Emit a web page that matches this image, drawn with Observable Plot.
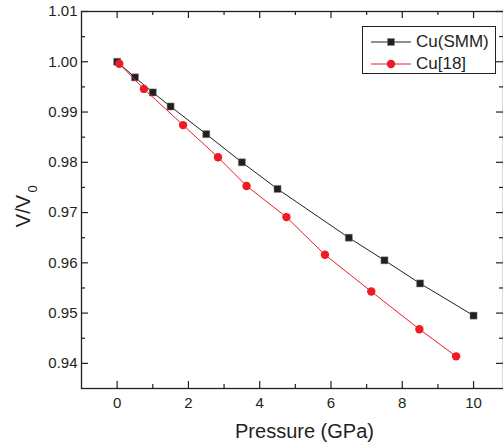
<!DOCTYPE html>
<html>
<head>
<meta charset="utf-8">
<script src="https://cdn.jsdelivr.net/npm/d3@7"></script>
<script src="https://cdn.jsdelivr.net/npm/@observablehq/plot@0.6"></script>
<style>
  html, body { margin: 0; padding: 0; background: #fff; }
  #wrap { position: relative; width: 503px; height: 444px; font-family: "Liberation Sans", Arial, sans-serif; }
  #legend { position: absolute; left: 362px; top: 26px; width: 134px; height: 48px; border: 1px solid #231f20; background: #fff; box-sizing: border-box; }
  .row { position: absolute; left: 0; height: 20px; display: flex; align-items: center; }
  .row span { font-size: 17px; color: #231f20; margin-left: 3px; line-height: 20px; }
</style>
</head>
<body>
<div id="wrap"></div>
<script>
// Series: Cu(SMM)
const pSMM = [0, 0.5, 1.0, 1.5, 2.5, 3.5, 4.5, 6.5, 7.5, 8.5, 10.0];
const vSMM = [1.000, 0.9969, 0.9939, 0.9911, 0.9856, 0.9800, 0.9747, 0.9650, 0.9605, 0.9559, 0.9495];
// Series: Cu[18]
const pRef = [0.06, 0.75, 1.85, 2.83, 3.63, 4.75, 5.83, 7.13, 8.48, 9.51];
const vRef = [0.9996, 0.9946, 0.9874, 0.9810, 0.9753, 0.9691, 0.9616, 0.9543, 0.9468, 0.9414];
// Ticks
const xMajor = [0, 2, 4, 6, 8, 10];
const xMinor = [1, 3, 5, 7, 9];
const yMajor = [0.94, 0.95, 0.96, 0.97, 0.98, 0.99, 1.00, 1.01];
const yMinor = [0.945, 0.955, 0.965, 0.975, 0.985, 0.995, 1.005];
const seriesNames = ["Cu(SMM)", "Cu[18]"];
const colors = ["#231f20", "#ed1c24"];

const smm = pSMM.map((p, i) => ({p, v: vSMM[i]}));
const ref = pRef.map((p, i) => ({p, v: vRef[i]}));

const W = 503, H = 444, mL = 81, mR = 0, mT = 11, mB = 56;
const iw = W - mL - mR, ih = H - mT - mB;
const major = 7, minor = 4;
const ink = "#231f20";

const chart = Plot.plot({
  width: W, height: H,
  marginLeft: mL, marginRight: mR, marginTop: mT, marginBottom: mB,
  style: {fontFamily: "'Liberation Sans', Arial, sans-serif", background: "#fff", color: ink},
  x: {domain: [-1, 10.84]},
  y: {domain: [0.935, 1.01]},
  marks: [
    Plot.axisX({ticks: xMajor, tickSize: 0, tickPadding: 9, fontSize: 15, label: null, tickFormat: d3.format("d")}),
    Plot.axisY({ticks: yMajor, tickSize: 0, tickPadding: 4, fontSize: 15, label: null, tickFormat: d3.format(".2f")}),
    // inward ticks
    Plot.tickX(xMajor, {x: d => d, insetTop: ih - major, stroke: ink, strokeWidth: 1.2}),
    Plot.tickX(xMinor, {x: d => d, insetTop: ih - minor, stroke: ink, strokeWidth: 1.2}),
    Plot.tickX(xMajor, {x: d => d, insetBottom: ih - major, stroke: ink, strokeWidth: 1.2}),
    Plot.tickX(xMinor, {x: d => d, insetBottom: ih - minor, stroke: ink, strokeWidth: 1.2}),
    Plot.tickY(yMajor, {y: d => d, insetRight: iw - major, stroke: ink, strokeWidth: 1.2}),
    Plot.tickY(yMinor, {y: d => d, insetRight: iw - minor, stroke: ink, strokeWidth: 1.2}),
    Plot.tickY(yMajor, {y: d => d, insetLeft: iw - major, stroke: ink, strokeWidth: 1.2}),
    Plot.tickY(yMinor, {y: d => d, insetLeft: iw - minor, stroke: ink, strokeWidth: 1.2}),
    Plot.frame({stroke: ink, strokeWidth: 1.3}),
    // series
    Plot.line(smm, {x: "p", y: "v", stroke: colors[0], strokeWidth: 1}),
    Plot.dot(smm, {x: "p", y: "v", symbol: "square", r: 4, fill: colors[0], stroke: "#8a8a8a", strokeWidth: 0.5}),
    Plot.line(ref, {x: "p", y: "v", stroke: colors[1], strokeWidth: 1}),
    Plot.dot(ref, {x: "p", y: "v", symbol: "circle", r: 4.2, fill: colors[1], stroke: "none"}),
    // axis titles
    Plot.text(["Pressure (GPa)"], {frameAnchor: "bottom", dx: 12, dy: 43, fontSize: 20, fill: ink, textAnchor: "middle", lineAnchor: "middle"}),
    Plot.text(["V/V"], {frameAnchor: "left", rotate: -90, dx: -57.5, dy: 11, fontSize: 20, fill: ink, textAnchor: "middle", lineAnchor: "middle"}),
    Plot.text(["0"], {frameAnchor: "left", rotate: -90, dx: -49, dy: -11, fontSize: 13, fill: ink, textAnchor: "middle", lineAnchor: "middle"})
  ]
});

const wrap = document.getElementById("wrap");
wrap.appendChild(chart);

const legend = document.createElement("div");
legend.id = "legend";
seriesNames.forEach((name, i) => {
  const row = document.createElement("div");
  row.className = "row";
  row.style.top = (i === 0 ? 5 : 27) + "px";
  const sw = i === 0
    ? `<svg width="50" height="20"><line x1="8" x2="48" y1="10" y2="10" stroke="${colors[0]}" stroke-width="1"/><rect x="24.5" y="6.5" width="7" height="7" fill="${colors[0]}" stroke="#8a8a8a" stroke-width="0.5"/></svg>`
    : `<svg width="50" height="20"><line x1="8" x2="48" y1="10" y2="10" stroke="${colors[1]}" stroke-width="1"/><circle cx="28" cy="10" r="4.2" fill="${colors[1]}"/></svg>`;
  row.innerHTML = sw + `<span>${name}</span>`;
  legend.appendChild(row);
});
wrap.appendChild(legend);
</script>
</body>
</html>
